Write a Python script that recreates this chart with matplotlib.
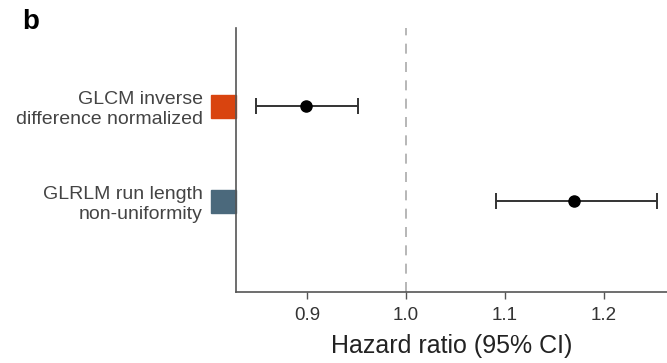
import matplotlib
matplotlib.use('Agg')
import matplotlib.pyplot as plt
import matplotlib.patches as mpatches
import matplotlib.transforms as mtransforms

# forest plot data
features = ['GLCM inverse\ndifference normalized',
            'GLRLM run length\nnon-uniformity']
hr = [0.899, 1.170]
ci_low = [0.848, 1.091]
ci_high = [0.951, 1.254]
box_colors = ['#d9440f', '#4b697c']
xticks = [0.9, 1.0, 1.1, 1.2]

plt.rcParams['font.family'] = ['Liberation Sans', 'DejaVu Sans']

fig = plt.figure(figsize=(6.67, 3.63), dpi=100)
ax = fig.add_axes([0.354, 0.1956, 0.646, 0.727])

ypos = [1, 0]
ax.axvline(1.0, color='#aaaaaa', lw=1.2, ls=(0, (6, 5)), zorder=1)

for y, m, lo, hi in zip(ypos, hr, ci_low, ci_high):
    ax.errorbar(m, y, xerr=[[m - lo], [hi - m]], fmt='o', color='black',
                ecolor='#333333', elinewidth=1.4, capsize=6, capthick=1.4,
                markersize=8, zorder=3)

# coloured boxes just left of the y axis
trans = mtransforms.blended_transform_factory(ax.transAxes, ax.transData)
for y, c in zip(ypos, box_colors):
    ax.add_patch(mpatches.Rectangle((-0.058, y - 0.121), 0.058, 0.242,
                                    transform=trans, color=c, clip_on=False))

ax.set_xlim(0.828, 1.264)
ax.set_ylim(-0.958, 1.821)
ax.set_xticks(xticks)
ax.set_xticklabels([f'{t:.1f}' for t in xticks])
ax.set_yticks(ypos)
ax.set_yticklabels(features, ha='right', fontsize=14, color='#444444',
                   linespacing=1.25)
ax.tick_params(axis='y', length=0, pad=24)
ax.tick_params(axis='x', length=5, width=1, color='#555555',
               labelsize=13.5, labelcolor='#333333', pad=6)

for s in ['top', 'right']:
    ax.spines[s].set_visible(False)
for s in ['left', 'bottom']:
    ax.spines[s].set_color('#555555')
    ax.spines[s].set_linewidth(1.2)

ax.set_xlabel('Hazard ratio (95% CI)', fontsize=18, color='#222222', labelpad=7)

fig.text(0.033, 0.94, 'b', fontsize=20, fontweight='bold', va='center')

fig.savefig('out.png', dpi=100)
